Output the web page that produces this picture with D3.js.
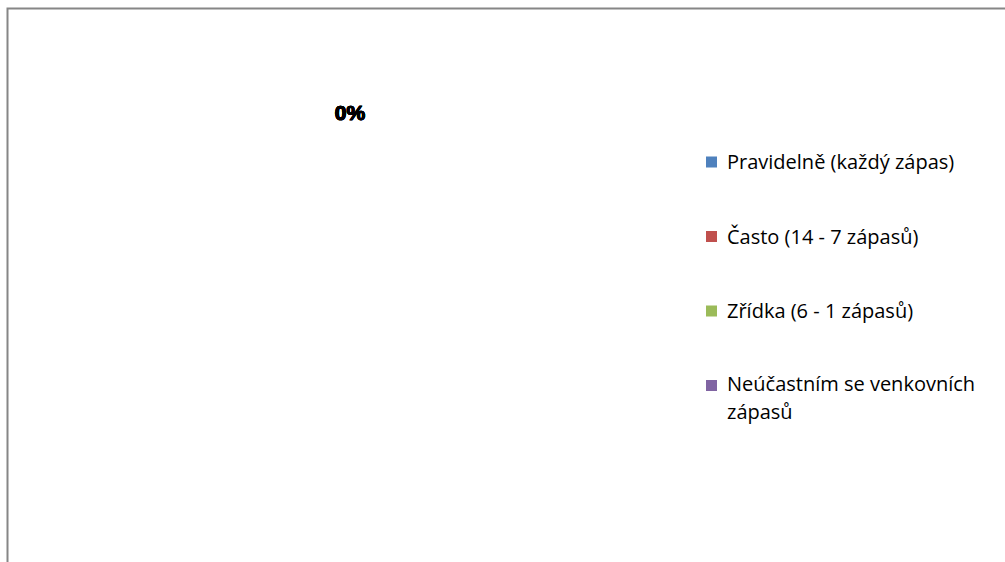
<!DOCTYPE html>
<html lang="cs">
<head>
<meta charset="UTF-8">
<title>Účast na venkovních zápasech</title>
<style>
    body { margin: 0; background: #fff; }
    svg { display: block; }
</style>
</head>
<body>
<svg id="chart"></svg>
<script src="https://cdn.jsdelivr.net/npm/d3@7/dist/d3.min.js"></script>
<script>
var categories = [
    "Pravidelně (každý zápas)",
    "Často (14 - 7 zápasů)",
    "Zřídka (6 - 1 zápasů)",
    "Neúčastním se venkovních zápasů"
];
var values = [0, 0, 0, 0];
var colors = ["#4f81bd", "#c0504d", "#9bbb59", "#8064a2"];

(function () {
    var width = 1005, height = 562;
    var svg = d3.select("#chart").attr("width", width).attr("height", height);

    // chart area frame (runs off the right and bottom edge)
    svg.append("rect")
        .attr("x", 7.5).attr("y", 8.5)
        .attr("width", 1100).attr("height", 700)
        .attr("fill", "#fff")
        .attr("stroke", "#868686")
        .attr("stroke-width", 2);

    var cx = 350, cy = 283, r = 150, labelR = 170;

    var pie = d3.pie().sort(null).value(function (d) { return d; });
    var arcs = pie(values);
    var total = d3.sum(values);

    var arc = d3.arc().innerRadius(0).outerRadius(r);
    var labelArc = d3.arc().innerRadius(labelR).outerRadius(labelR);

    var g = svg.append("g").attr("transform", "translate(" + cx + "," + cy + ")");

    g.selectAll("path")
        .data(arcs)
        .enter()
        .append("path")
        .attr("d", arc)
        .attr("fill", function (d, i) { return colors[i]; });

    g.selectAll("text.lbl")
        .data(arcs)
        .enter()
        .append("text")
        .attr("class", "lbl")
        .attr("transform", function (d) { return "translate(" + labelArc.centroid(d) + ")"; })
        .attr("text-anchor", "middle")
        .attr("dy", "0.35em")
        .style("font-family", "'Liberation Sans', Arial, sans-serif")
        .style("font-weight", "bold")
        .style("font-size", "21px")
        .attr("fill", "#000")
        .attr("stroke", "#000")
        .attr("stroke-width", 0.6)
        .text(function (d) {
            var p = total ? d.value / total : 0;
            return d3.format(".0%")(p);
        });

    // legend
    var legendX = 706, legendY = 162, step = 74.5;
    var legend = svg.append("g");
    var items = legend.selectAll("g")
        .data(categories)
        .enter()
        .append("g")
        .attr("transform", function (d, i) { return "translate(" + legendX + "," + (legendY + i * step) + ")"; });

    items.append("rect")
        .attr("x", 0).attr("y", -5.5)
        .attr("width", 11).attr("height", 11)
        .attr("fill", function (d, i) { return colors[i]; });

    var font = "'Open Sans', 'Noto Sans', sans-serif";
    items.each(function (d) {
        // wrap long labels like the original legend
        var lines = d.length > 26 ? [d.slice(0, d.lastIndexOf(" ")), d.slice(d.lastIndexOf(" ") + 1)] : [d];
        var t = d3.select(this).append("text")
            .attr("x", 21)
            .attr("y", lines.length > 1 ? -1.5 : 0)
            .style("font-family", font)
            .style("font-size", "20px")
            .attr("fill", "#000");
        lines.forEach(function (line, j) {
            t.append("tspan").attr("x", 21).attr("dy", j === 0 ? "0.35em" : "27.5px").text(line);
        });
    });
})();
</script>
</body>
</html>
